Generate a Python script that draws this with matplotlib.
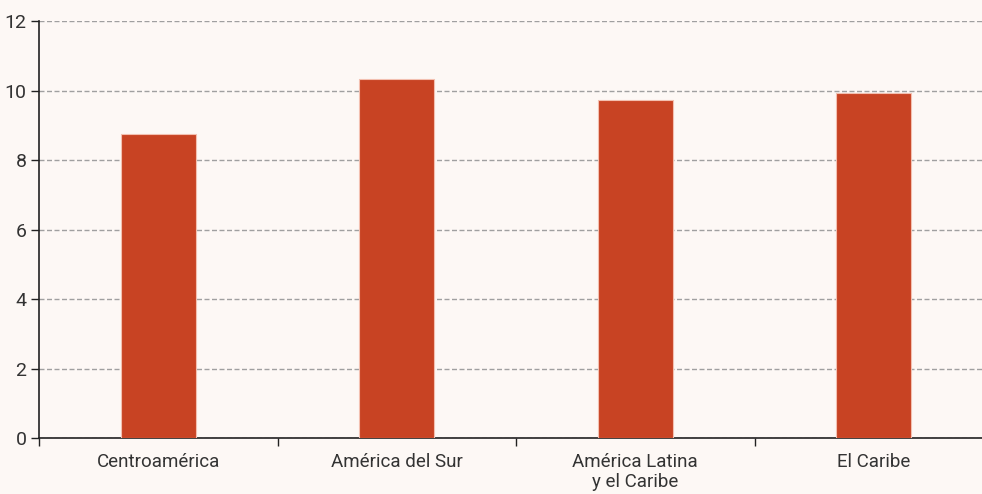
import matplotlib
matplotlib.use("Agg")
import matplotlib.pyplot as plt
import numpy as np

categories = ["Centroamérica", "América del Sur", "América Latina\ny el Caribe", "El Caribe"]
values = [8.75, 10.33, 9.73, 9.93]
yticks = [0, 2, 4, 6, 8, 10, 12]

plt.rcParams['font.family'] = ['Roboto', 'DejaVu Sans']

bg = "#fdf8f5"
fig = plt.figure(figsize=(9.82, 4.94), dpi=100, facecolor=bg)
ax = fig.add_axes([39/982, 56/494, 954/982, 417/494], facecolor=bg)

x = np.arange(len(categories))
ax.bar(x, values, width=0.315, color="#c84323", edgecolor="#f3c0b0", linewidth=0.8, zorder=3)

ax.set_xlim(-0.5, len(categories) - 0.5)
ax.set_ylim(0, 12)
ax.set_yticks(yticks)
ax.set_yticklabels([str(t) for t in yticks], fontsize=14, color="#333333")
ax.yaxis.grid(True, linestyle=(0, (3.6, 1.8)), color="#a0a0a0", linewidth=1)
ax.set_axisbelow(True)

ax.set_xticks(x)
ax.set_xticklabels(categories, fontsize=13.5, color="#333333", linespacing=1.15)
ax.set_xticks(np.arange(-0.5, len(categories)), minor=True)
ax.tick_params(axis='x', which='major', length=0, pad=11)
ax.tick_params(axis='x', which='minor', length=6, width=1, color="#222222")
ax.tick_params(axis='y', length=6, width=1, color="#222222", pad=3)

for s in ["top", "right"]:
    ax.spines[s].set_visible(False)
for s in ["left", "bottom"]:
    ax.spines[s].set_color("#222222")
    ax.spines[s].set_linewidth(1.2)

fig.savefig("out.png", dpi=100, facecolor=bg)
